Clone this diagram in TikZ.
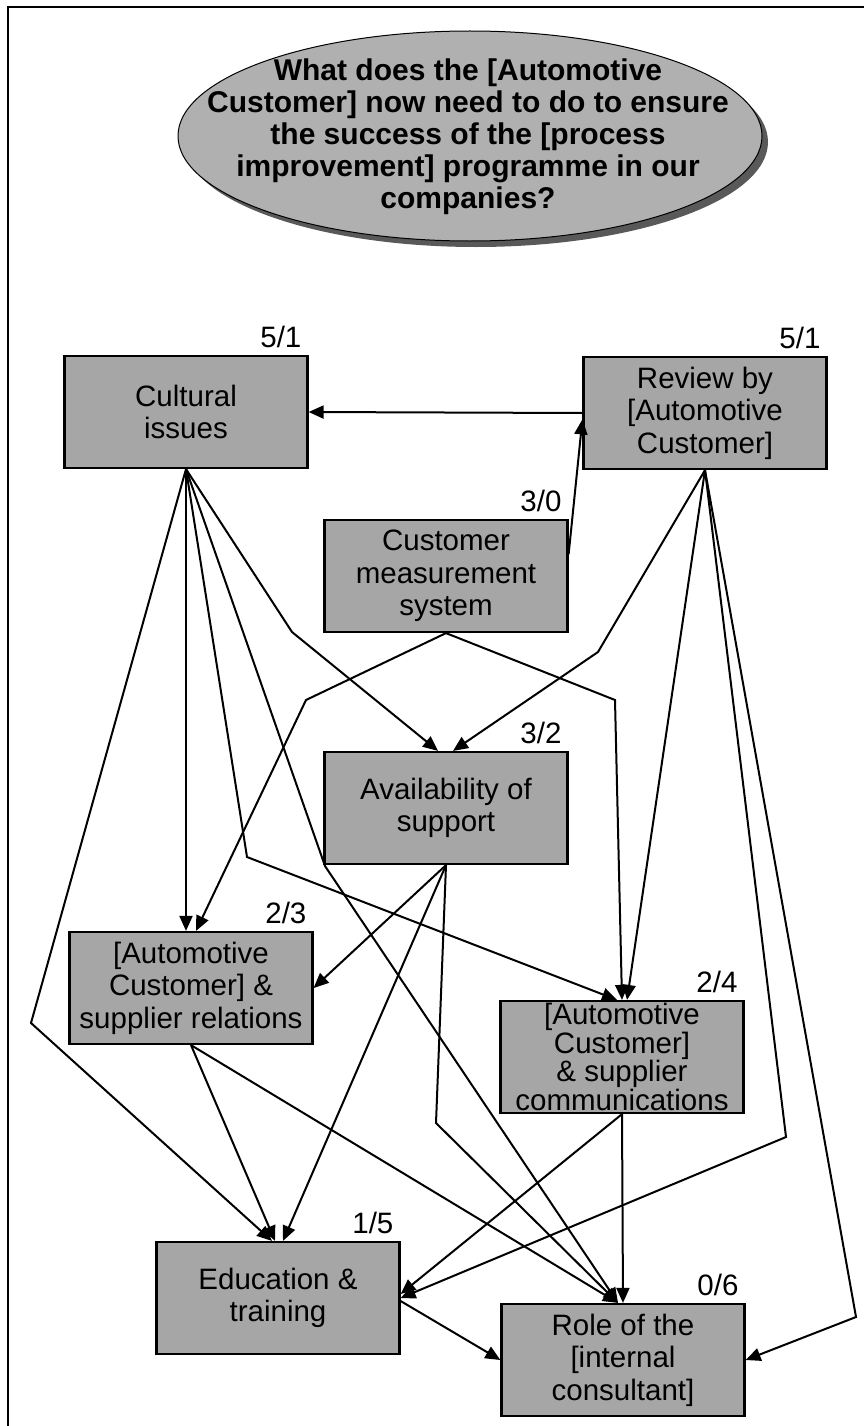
\documentclass[tikz,border=0pt]{standalone}
\usepackage{fontspec}
\setmainfont{Liberation Sans}
\usepackage{xcolor}
\usetikzlibrary{arrows.meta,positioning}
\definecolor{boxgray}{HTML}{A6A6A6}
\definecolor{discgray}{HTML}{B0B0B0}

\begin{document}
\begin{tikzpicture}[x=1pt,y=-1pt,>={Triangle[length=15pt,width=13pt]},
  factor/.style={draw,line width=2.2pt,fill=boxgray,minimum width=243pt,minimum height=112pt,inner sep=2pt,align=center,font=\fontsize{29.5}{32.5}\selectfont},
  score/.style={inner sep=0pt,font=\fontsize{29.5}{32.5}\selectfont},
  link/.style={->,line width=2pt}]
\useasboundingbox (0,0) rectangle (864,1426);
\draw[line width=1.5pt] (8,1426) -- (8,7) -- (864,7);
\fill[black!65] (476,142) ellipse [x radius=292,y radius=105];
\draw[line width=1pt,fill=discgray] (470,136) ellipse [x radius=292,y radius=105];
\node[align=center,font=\bfseries\fontsize{30}{32}\selectfont] (q) at (468,137) {What does the [Automotive\\Customer] now need to do to ensure\\the success of the [process\\improvement] programme in our\\companies?};

\node[factor] (cult) at (186,412) {Cultural\\issues};
\node[factor] (rev) at (705,413) {Review by\\{[}Automotive\\Customer]};
\node[factor] (meas) at (446,576) {Customer\\measurement\\system};
\node[factor] (avail) at (446,808) {Availability of\\support};
\node[factor] (rel) at (191,988) {{[}Automotive\\Customer] \&\\supplier relations};
\node[factor,font=\fontsize{29.5}{26.5}\selectfont] (comm) at (622,1057) {{[}Automotive\\Customer]\\\& supplier\\communications};
\node[factor] (edu) at (278,1298) {Education \&\\training};
\node[factor] (role) at (623,1360) {Role of the\\{[}internal\\consultant]};

\node[score,above left=7pt and 7pt of cult.north east] (cult-s) {5/1};
\node[score,above left=7pt and 7pt of rev.north east] (rev-s) {5/1};
\node[score,above left=7pt and 7pt of meas.north east] (meas-s) {3/0};
\node[score,above left=7pt and 7pt of avail.north east] (avail-s) {3/2};
\node[score,above left=7pt and 7pt of rel.north east] (rel-s) {2/3};
\node[score,above left=7pt and 7pt of comm.north east] (comm-s) {2/4};
\node[score,above left=7pt and 7pt of edu.north east] (edu-s) {1/5};
\node[score,above left=7pt and 7pt of role.north east] (role-s) {0/6};

\coordinate (cb1) at (31,1023);
\coordinate (cb2) at (247,857);
\coordinate (cb3) at (292,632);
\coordinate (cb4) at (325,866);
\coordinate (rb1) at (598,652);
\coordinate (rb2) at (786,1137);
\coordinate (rb3) at (856,1317);
\coordinate (mb1) at (306,700);
\coordinate (mb2) at (615,700);
\coordinate (ab1) at (436,1123);

\draw[link] (cult.south) -- (cb1) -- ([xshift=-6pt]edu.north);
\draw[link] (cult.south) -- (cult.south |- rel.north);
\draw[link] (cult.south) -- (cb2) -- ([xshift=-5pt]comm.north);
\draw[link] (cult.south) -- (cb4) -- ([xshift=-5pt]role.north);
\draw[link] (cult.south) -- (cb3) -- ([xshift=-8pt]avail.north);
\draw[link] (rev.west) -- (cult.east);
\draw[link] (rev.south) -- (rb1) -- ([xshift=7pt]avail.north);
\draw[link] (rev.south) -- ([xshift=5pt]comm.north);
\draw[link] (rev.south) -- (rb2) -- (edu.east);
\draw[link] (rev.south) -- (rb3) -- (role.east);
\draw[link] (meas.10) -- (rev.183);
\draw[link] (meas.south) -- (mb1) -- ([xshift=5pt]rel.north);
\draw[link] (meas.south) -- (mb2) -- (comm.north);
\draw[link] (avail.south) -- (rel.east);
\draw[link] (avail.south) -- ([xshift=5pt]edu.north);
\draw[link] (avail.south) -- (ab1) -- ([xshift=-5pt]role.north);
\draw[link] (rel.south) -- ([xshift=-3pt]edu.north);
\draw[link] (rel.south) -- ([xshift=-5pt]role.north);
\draw[link] (comm.south) -- ([yshift=4pt]edu.east);
\draw[link] (comm.south) -- (role.north);
\draw[link] ([yshift=-3pt]edu.east) -- (role.west);
\end{tikzpicture}
\end{document}
